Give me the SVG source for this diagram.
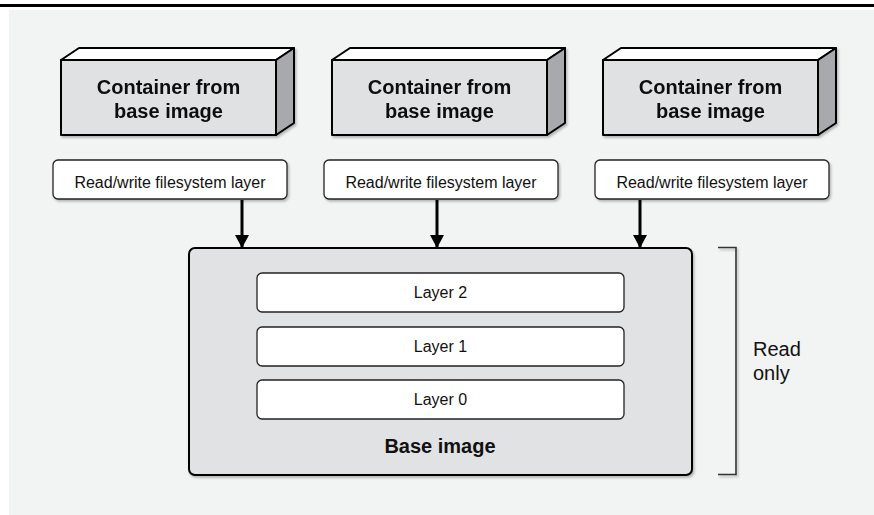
<svg xmlns="http://www.w3.org/2000/svg" width="874" height="515" viewBox="0 0 874 515">
  <defs>
    <filter id="sh" x="-10%" y="-10%" width="130%" height="140%">
      <feDropShadow dx="1.5" dy="2" stdDeviation="1.2" flood-color="#000" flood-opacity="0.25"/>
    </filter>
    <marker id="arr" viewBox="0 0 13 14" refX="12.5" refY="7" markerWidth="13" markerHeight="14" markerUnits="userSpaceOnUse" orient="auto">
      <path d="M0,0 L13,7 L0,14 Z" fill="#000"/>
    </marker>
    <style>
      .front { fill: #e0e1e3; stroke: #000; stroke-width: 2; stroke-linejoin: round; }
      .top { fill: #ffffff; stroke: #000; stroke-width: 2; stroke-linejoin: round; }
      .side { fill: #a7a9ac; stroke: #000; stroke-width: 2; stroke-linejoin: round; }
      .rw { fill: #ffffff; stroke: #222; stroke-width: 1.3; }
      .layer { fill: #ffffff; stroke: #222; stroke-width: 1.3; }
      .base { fill: #e1e2e4; stroke: #000; stroke-width: 2; }
      .bold { font-family: "Liberation Sans", Arial, sans-serif; font-weight: bold; font-size: 20px; fill: #111; text-anchor: middle; }
      .reg { font-family: "Liberation Sans", Arial, sans-serif; font-size: 16px; fill: #111; text-anchor: middle; }
      .ro { font-family: "Liberation Sans", Arial, sans-serif; font-size: 20px; fill: #111; }
      .conn { stroke: #000; stroke-width: 3; fill: none; }
    </style>
  </defs>

  <rect x="9" y="10" width="865" height="505" fill="#f2f3f3"/>
  <line x1="0" y1="5.5" x2="874" y2="5.5" stroke="#000" stroke-width="3"/>

  <g id="container1" filter="url(#sh)">
    <polygon class="top" points="61,60 79,48 294,48 276,60"/>
    <polygon class="side" points="276,60 294,48 294,123 276,135"/>
    <rect class="front" x="61" y="60" width="215" height="75"/>
    <text class="bold" x="168.5" y="94">Container from</text>
    <text class="bold" x="168.5" y="118">base image</text>
  </g>
  <g id="container2" filter="url(#sh)">
    <polygon class="top" points="332,60 350,48 565,48 547,60"/>
    <polygon class="side" points="547,60 565,48 565,123 547,135"/>
    <rect class="front" x="332" y="60" width="215" height="75"/>
    <text class="bold" x="439.5" y="94">Container from</text>
    <text class="bold" x="439.5" y="118">base image</text>
  </g>
  <g id="container3" filter="url(#sh)">
    <polygon class="top" points="603,60 621,48 836,48 818,60"/>
    <polygon class="side" points="818,60 836,48 836,123 818,135"/>
    <rect class="front" x="603" y="60" width="215" height="75"/>
    <text class="bold" x="710.5" y="94">Container from</text>
    <text class="bold" x="710.5" y="118">base image</text>
  </g>

  <g id="rw1">
    <rect class="rw" x="53" y="160" width="234" height="39" rx="5" filter="url(#sh)"/>
    <text class="reg" x="170" y="188">Read/write filesystem layer</text>
  </g>
  <g id="rw2">
    <rect class="rw" x="324" y="160" width="234" height="39" rx="5" filter="url(#sh)"/>
    <text class="reg" x="441" y="188">Read/write filesystem layer</text>
  </g>
  <g id="rw3">
    <rect class="rw" x="595" y="160" width="234" height="39" rx="5" filter="url(#sh)"/>
    <text class="reg" x="712" y="188">Read/write filesystem layer</text>
  </g>

  <g id="base-image">
    <rect class="base" x="189" y="248" width="503" height="227" rx="6" filter="url(#sh)"/>
    <text class="bold" x="440" y="453">Base image</text>
  </g>
  <g id="layer2">
    <rect class="layer" x="257" y="273" width="367" height="39" rx="5"/>
    <text class="reg" x="440.5" y="298">Layer 2</text>
  </g>
  <g id="layer1">
    <rect class="layer" x="257" y="327" width="367" height="39" rx="5"/>
    <text class="reg" x="440.5" y="352">Layer 1</text>
  </g>
  <g id="layer0">
    <rect class="layer" x="257" y="380" width="367" height="39" rx="5"/>
    <text class="reg" x="440.5" y="405">Layer 0</text>
  </g>

  <g id="connectors">
    <line class="conn" x1="242" y1="200" x2="242" y2="247.5" marker-end="url(#arr)"/>
    <line class="conn" x1="437" y1="200" x2="437" y2="247.5" marker-end="url(#arr)"/>
    <line class="conn" x1="640" y1="200" x2="640" y2="247.5" marker-end="url(#arr)"/>
  </g>

  <g id="read-only">
    <polyline points="718,247.5 736,247.5 736,474.5 718,474.5" fill="none" stroke="#333" stroke-width="1.6" filter="url(#sh)"/>
    <text class="ro" x="753" y="356">Read</text>
    <text class="ro" x="753" y="380">only</text>
  </g>
</svg>
